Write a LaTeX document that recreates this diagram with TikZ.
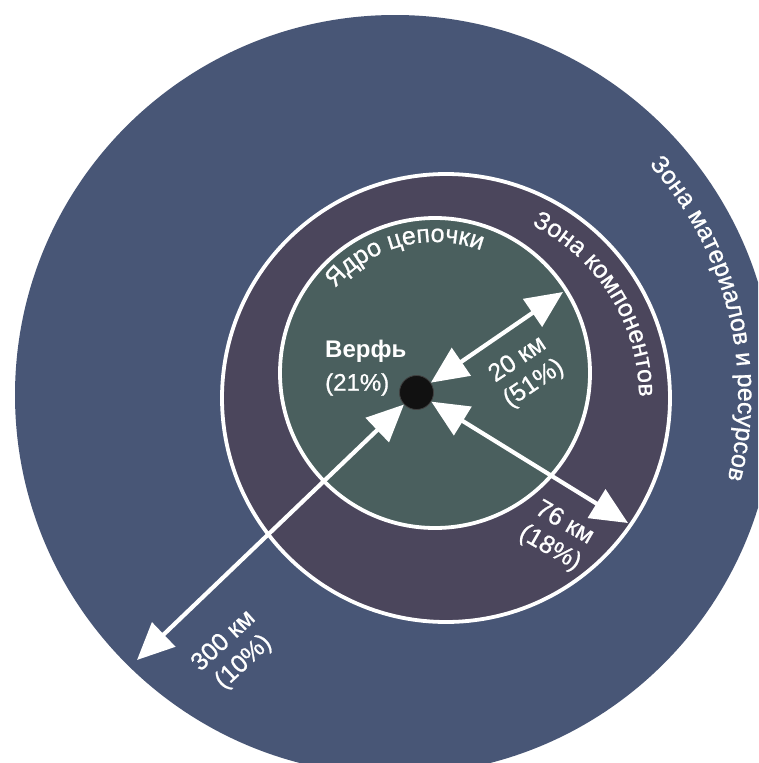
\documentclass[tikz,border=0pt]{standalone}
\usepackage{fontspec}
\setmainfont{Liberation Sans}
\newfontfamily\heavysans{Liberation Sans}[RawFeature={embolden=0.8}]
\usetikzlibrary{arrows.meta,decorations.text,calc}

\definecolor{outerzone}{HTML}{485676}
\definecolor{midzone}{HTML}{4B465C}
\definecolor{corezone}{HTML}{4A5F5E}
\definecolor{yarddot}{HTML}{111111}

\newcommand\zonefont{\heavysans\fontsize{25}{27}\selectfont}

\begin{document}
\begin{tikzpicture}[x=1pt,y=1pt,
  ring/.style={draw=white, line width=3.8pt},
  dimarrow/.style={white, line width=4.2pt,
    {Triangle[length=37pt,width=33pt]}-{Triangle[length=37pt,width=33pt]}},
  lbl/.style={text=white, font=\heavysans\fontsize{25}{29}\selectfont, align=center, inner sep=0pt},
  arclabel/.style={decorate, decoration={text along path, text align=center,
    text color=white, text={|\zonefont|#1}}},
]
\useasboundingbox (0,0) rectangle (758,-763);
\fill[white] (0,0) rectangle (758,-763);
\clip (0,0) rectangle (758,-763);

% zone centres
\coordinate (cO) at (395,-395);
\coordinate (cM) at (446,-398);
\coordinate (cC) at (435,-373);

% zones
\fill[outerzone] (cO) circle (380);
\filldraw[fill=midzone, ring] (cM) circle (224);
\filldraw[fill=corezone, ring] (cC) circle (155);

% zone titles along the circles
\path[arclabel={Ядро цепочки}] ($(cC)+(160:131)$) arc[start angle=160, end angle=49, radius=131];
\path[arclabel={Зона компонентов}] ($(cM)+(92:193)$) arc[start angle=92, end angle=-28, radius=193];
\path[arclabel={Зона материалов и ресурсов}] ($(cO)+(72:343)$) arc[start angle=72, end angle=-44, radius=343];

% shipyard
\node[circle, fill=yarddot, draw=black!75, line width=0.8pt, minimum size=34pt, inner sep=0pt] (yard) at (416.5,-392.5) {};
\node[text=white, font=\fontsize{24}{33}\selectfont, align=left, anchor=west, inner sep=0pt] (yardlbl) at (325,-368) {\textbf{Верфь}\\{\heavysans(21\%)}};

% distance ends
\coordinate (e20) at (563,-292);
\coordinate (e76) at (628,-523);
\coordinate (e300) at (137,-660);

\draw[dimarrow] (yard) -- (e20);
\draw[dimarrow] (yard) -- (e76);
\draw[dimarrow] (yard) -- (e300);

% distance labels
\node[lbl, rotate=34] (l20) at (526,-372) {20 км\\(51\%)};
\node[lbl, rotate=-30] (l76) at (557,-536) {76 км\\(18\%)};
\node[lbl, rotate=43] (l300) at (234,-652) {300 км\\(10\%)};
\end{tikzpicture}
\end{document}
